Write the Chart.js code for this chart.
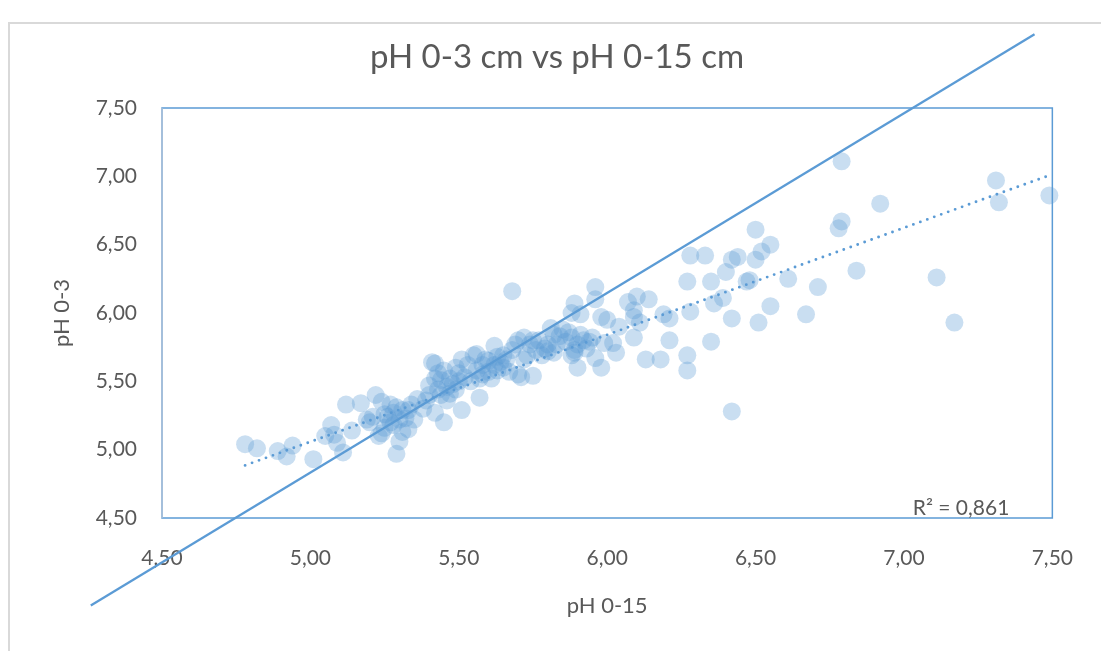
<!DOCTYPE html>
<html><head><meta charset="utf-8">
<script src="https://cdn.jsdelivr.net/npm/chart.js@4.4.1/dist/chart.umd.min.js"></script>
<style>html,body{margin:0;padding:0;background:#fff;} #wrap{width:1101px;height:651px;}</style>
</head><body><div id="wrap"><canvas id="c" width="1101" height="651"></canvas></div>
<script>
const chartTitle = 'pH 0-3 cm vs pH 0-15 cm';
const xTitle = 'pH 0-15';
const yTitle = 'pH 0-3';
const r2Label = 'R² = 0,861';
const tickValues = [4.5, 5, 5.5, 6, 6.5, 7, 7.5];
const tickLabels = ['4,50', '5,00', '5,50', '6,00', '6,50', '7,00', '7,50'];

const ph015 = [
 4.78,4.82,4.89,4.92,4.94,5.01,5.05,5.07,5.08,5.09,5.11,5.12,5.14,5.17,5.19,5.20,5.22,5.21,
 5.23,5.24,5.24,5.25,5.26,5.27,5.28,5.28,5.29,5.30,5.30,5.31,5.31,5.32,5.33,5.33,5.34,5.35,5.36,5.25,5.29,5.27,
 5.38,5.39,5.40,5.41,5.42,5.42,5.42,5.43,5.44,5.44,5.45,5.45,5.46,5.46,5.47,5.47,5.48,5.49,5.49,5.50,5.51,5.51,5.50,5.43,5.40,
 5.53,5.55,5.56,5.57,5.56,5.58,5.59,5.60,5.61,5.62,5.62,5.63,5.63,5.64,5.65,5.57,5.54,5.52,5.58,5.60,
 5.68,5.66,5.68,5.69,5.70,5.72,5.70,5.71,5.72,5.73,5.74,5.75,5.76,5.77,5.78,5.79,5.80,5.65,5.67,5.75,
 5.81,5.82,5.83,5.84,5.85,5.86,5.87,5.88,5.88,5.89,5.89,5.89,5.90,5.91,5.90,5.91,5.92,5.93,5.88,5.80,5.82,5.94,
 5.96,5.96,5.98,5.95,5.99,6.00,6.02,6.03,6.04,6.07,6.09,6.09,6.10,6.09,6.11,6.14,6.19,6.21,6.21,5.96,5.98,6.13,6.18,
 6.27,6.27,6.27,6.28,6.28,6.33,6.35,6.35,6.36,6.39,6.40,6.42,6.42,6.42,6.44,6.47,6.48,6.50,6.50,6.51,6.52,6.55,6.55,6.61,6.67,6.71,6.78,6.79,6.79,6.84,6.92,7.11,7.17,7.31,7.32,7.49
];
const ph03 = [
 5.04,5.01,4.99,4.95,5.03,4.93,5.10,5.18,5.11,5.05,4.98,5.33,5.14,5.34,5.22,5.20,5.40,5.24,
 5.10,5.12,5.35,5.16,5.24,5.33,5.18,5.27,4.97,5.06,5.22,5.13,5.29,5.23,5.29,5.15,5.33,5.22,5.37,5.26,5.31,5.20,
 5.30,5.36,5.47,5.64,5.63,5.52,5.27,5.44,5.51,5.40,5.58,5.20,5.36,5.46,5.52,5.41,5.48,5.60,5.44,5.56,5.66,5.29,5.50,5.56,5.40,
 5.62,5.69,5.70,5.38,5.58,5.62,5.66,5.57,5.52,5.62,5.76,5.68,5.58,5.64,5.69,5.52,5.50,5.53,5.55,5.65,
 6.16,5.66,5.73,5.77,5.80,5.82,5.55,5.53,5.66,5.69,5.77,5.54,5.73,5.80,5.69,5.74,5.77,5.60,5.57,5.80,
 5.89,5.84,5.77,5.83,5.88,5.79,5.86,5.82,6.00,6.07,5.71,5.73,5.77,5.84,5.60,5.99,5.80,5.74,5.69,5.72,5.71,5.79,
 6.19,6.10,5.97,5.82,5.78,5.95,5.78,5.71,5.90,6.08,5.97,5.82,6.12,6.02,5.93,6.10,5.99,5.96,5.80,5.67,5.60,5.66,5.66,
 5.69,5.58,6.23,6.01,6.42,6.42,5.79,6.23,6.07,6.11,6.30,5.96,5.28,6.39,6.41,6.23,6.24,6.61,6.39,5.93,6.45,6.50,6.05,6.25,5.99,6.19,6.62,7.11,6.67,6.31,6.80,6.26,5.93,6.97,6.81,6.86
];
const trendX = [4.78, 7.50];
const trendY = [4.885, 7.015];
const refLineX = [4.26, 7.44];
const refLineY = [3.86, 8.04];

const blue = '#5B9BD5';
const txt = '#595959';
const FONT = 'Lato, "Open Sans", sans-serif';

const pts = ph015.map((x, i) => ({x, y: ph03[i]}));
const trend = trendX.map((x, i) => ({x, y: trendY[i]}));
const ref = refLineX.map((x, i) => ({x, y: refLineY[i]}));

const decor = {
  id: 'decor',
  beforeDraw(chart) {
    const ctx = chart.ctx;
    ctx.save();
    ctx.fillStyle = '#fff';
    ctx.fillRect(0, 0, chart.width, chart.height);
    ctx.strokeStyle = '#D9D9D9';
    ctx.lineWidth = 2;
    ctx.beginPath();
    ctx.moveTo(9, chart.height + 2);
    ctx.lineTo(9, 23);
    ctx.lineTo(chart.width + 2, 23);
    ctx.stroke();
    ctx.fillStyle = txt;
    ctx.font = '33px ' + FONT;
    ctx.textAlign = 'center';
    ctx.textBaseline = 'middle';
    ctx.fillText(chartTitle, 557, 57);
    ctx.restore();
  },
  beforeDatasetsDraw(chart) {
    const {ctx, chartArea: a} = chart;
    ctx.save();
    ctx.strokeStyle = blue;
    ctx.lineWidth = 1.5;
    ctx.strokeRect(a.left, a.top, a.right - a.left, a.bottom - a.top);
    ctx.strokeStyle = '#AFC3DA';
    ctx.beginPath();
    ctx.moveTo(a.left, a.top);
    ctx.lineTo(a.left, a.bottom);
    ctx.stroke();
    ctx.restore();
  },
  afterDraw(chart) {
    const {ctx, chartArea: a} = chart;
    ctx.save();
    ctx.fillStyle = txt;
    ctx.font = '21px ' + FONT;
    ctx.textAlign = 'right';
    ctx.textBaseline = 'alphabetic';
    ctx.fillText(r2Label, a.right - 43, a.bottom - 3);
    ctx.restore();
  }
};

function tickFmt(v) {
  const i = tickValues.findIndex(t => Math.abs(t - v) < 1e-9);
  return i >= 0 ? tickLabels[i] : '';
}
function setTicks(s) { s.ticks = tickValues.map(v => ({value: v})); }

new Chart(document.getElementById('c'), {
  type: 'scatter',
  data: {
    datasets: [
      {type: 'line', data: ref, borderColor: blue, borderWidth: 2.25, pointRadius: 0, fill: false, clip: false, order: 1},
      {type: 'line', data: trend, borderColor: blue, borderWidth: 2.9, borderDash: [0, 7.4], borderCapStyle: 'round', pointRadius: 0, fill: false, clip: false, order: 2},
      {data: pts, backgroundColor: 'rgba(91,155,213,0.33)', borderWidth: 0, pointRadius: 9, pointHoverRadius: 9, clip: false, order: 3}
    ]
  },
  options: {
    responsive: false,
    animation: false,
    events: [],
    layout: {padding: {left: 0, right: 45, top: 108, bottom: 0}},
    plugins: {legend: {display: false}, tooltip: {enabled: false}, title: {display: false}},
    scales: {
      x: {
        type: 'linear', min: 4.5, max: 7.5,
        afterBuildTicks: setTicks,
        afterFit: s => { s.height = 133; },
        grid: {display: false, drawTicks: false},
        border: {display: false},
        ticks: {callback: tickFmt, padding: 28, color: txt, font: {family: FONT, size: 21}, maxRotation: 0, autoSkip: false},
        title: {display: true, text: xTitle, color: txt, font: {family: FONT, size: 22}, padding: {top: 0, bottom: 32}}
      },
      y: {
        type: 'linear', min: 4.5, max: 7.5,
        afterBuildTicks: setTicks,
        afterFit: s => { s.width = 162; },
        grid: {display: false, drawTicks: false},
        border: {display: false},
        ticks: {callback: tickFmt, padding: 25, color: txt, font: {family: FONT, size: 21}, autoSkip: false},
        title: {display: true, text: yTitle, color: txt, font: {family: FONT, size: 22}, padding: {top: 49, bottom: 0}}
      }
    }
  },
  plugins: [decor]
});
</script>
</body></html>
